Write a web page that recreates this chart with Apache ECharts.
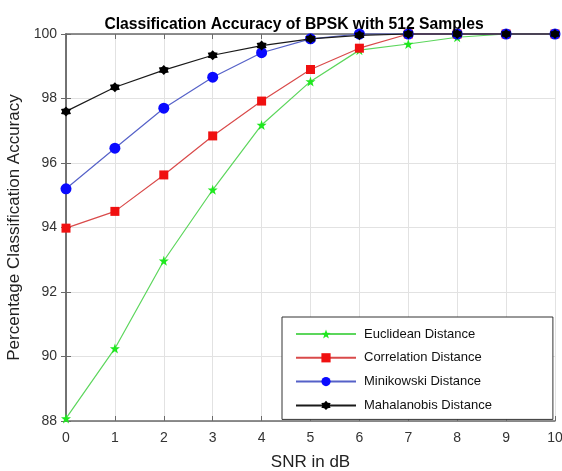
<!DOCTYPE html>
<html>
<head>
<meta charset="utf-8">
<script src="https://cdn.jsdelivr.net/npm/echarts@6/dist/echarts.min.js"></script>
<style>html,body{margin:0;padding:0;background:#fff;}#c{width:562px;height:471px;}</style>
</head>
<body>
<div id="c"></div>
<script>
var snr = [0, 1, 2, 3, 4, 5, 6, 7, 8, 9, 10];
var euclidean = [88.08, 90.25, 92.97, 95.17, 97.18, 98.53, 99.5, 99.69, 99.9, 100, 100];
var correlation = [93.98, 94.5, 95.63, 96.84, 97.92, 98.9, 99.56, 100, 100, 100, 100];
var minikowski = [95.2, 96.46, 97.7, 98.66, 99.42, 99.85, 100, 100, 100, 100, 100];
var mahalanobis = [97.6, 98.35, 98.88, 99.34, 99.64, 99.85, 99.96, 100, 100, 100, 100];
var seriesNames = ['Euclidean Distance', 'Correlation Distance', 'Minikowski Distance', 'Mahalanobis Distance'];
var yTicks = [88, 90, 92, 94, 96, 98, 100];

var star5 = 'path://M50 0 L61.76 33.82 L97.55 34.55 L69.02 56.18 L79.39 90.45 L50 70 L20.61 90.45 L30.98 56.18 L2.45 34.55 L38.24 33.82 Z';
var star6 = 'path://M50 0 L67 20 L93.3 25 L84 50 L93.3 75 L67 80 L50 100 L33 80 L6.7 75 L16 50 L6.7 25 L33 20 Z';

function pairs(ys) { return snr.map(function (x, i) { return [x, ys[i]]; }); }

var font = 'Liberation Sans, Arial, sans-serif';
var axisCol = '#6a6a6a';
var chart = echarts.init(document.getElementById('c'));
var mk = function (name, ys, sym, size, mcol, lcol, z) {
  return {
    name: name, type: 'line', data: pairs(ys), symbol: sym, symbolSize: size,
    showAllSymbol: true, clip: false, z: z, xAxisIndex: 0, yAxisIndex: 0,
    itemStyle: { color: mcol, borderColor: mcol, borderWidth: 0 },
    lineStyle: { color: lcol, width: 1.2 },
    emphasis: { disabled: true }, animation: false
  };
};
chart.setOption({
  animation: false,
  title: {
    text: 'Classification Accuracy of BPSK with 512 Samples',
    left: 289, top: 12, textAlign: 'center',
    textStyle: { fontFamily: font, fontSize: 15.7, fontWeight: 'bold', color: '#000' }
  },
  grid: { left: 66, right: 7, top: 34, bottom: 50, show: false, containLabel: false, outerBoundsMode: 'none' },
  legend: {
    orient: 'vertical', left: 282, top: 317,
    padding: [10, 61, 7, 13], itemGap: 9.8, itemWidth: 60, itemHeight: 11.5,
    backgroundColor: '#fff', borderColor: '#333', borderWidth: 1, borderRadius: 0,
    textStyle: { fontFamily: font, fontSize: 13, lineHeight: 14, color: '#111', padding: [0, 0, 0, 3] },
    data: seriesNames
  },
  xAxis: [{
    type: 'value', min: 0, max: 10, interval: 1, position: 'bottom',
    name: 'SNR in dB', nameLocation: 'middle', nameGap: 33,
    nameTextStyle: { fontFamily: font, fontSize: 17, color: '#222' },
    axisLine: { show: true, lineStyle: { color: axisCol, width: 1.5 } },
    axisTick: { show: true, inside: true, length: 5, lineStyle: { color: axisCol } },
    axisLabel: { fontFamily: font, fontSize: 14, color: '#333', margin: 10 },
    splitLine: { show: true, lineStyle: { color: '#e2e2e2', width: 1 } }
  }, {
    type: 'value', min: 0, max: 10, interval: 1, position: 'top',
    axisLine: { show: true, lineStyle: { color: axisCol, width: 1.5 } },
    axisTick: { show: true, inside: true, length: 5, lineStyle: { color: axisCol } },
    axisLabel: { show: false }, splitLine: { show: false }
  }],
  yAxis: [{
    type: 'value', min: 88, max: 100, interval: 2, position: 'left',
    name: 'Percentage Classification Accuracy', nameLocation: 'middle', nameGap: 27,
    nameTextStyle: { fontFamily: font, fontSize: 17, color: '#222' },
    axisLine: { show: true, lineStyle: { color: axisCol, width: 1.5 } },
    axisTick: { show: true, inside: true, length: 5, lineStyle: { color: axisCol } },
    axisLabel: { fontFamily: font, fontSize: 14, color: '#333', margin: 9,
      formatter: function (v) { return yTicks.indexOf(v) >= 0 ? String(v) : ''; } },
    splitLine: { show: true, lineStyle: { color: '#e2e2e2', width: 1 } }
  }, {
    type: 'value', min: 88, max: 100, interval: 2, position: 'right',
    axisLine: { show: true, lineStyle: { color: axisCol, width: 1.5 } },
    axisTick: { show: true, inside: true, length: 5, lineStyle: { color: axisCol } },
    axisLabel: { show: false }, splitLine: { show: false }
  }],
  series: [
    mk(seriesNames[0], euclidean, star5, 10, '#1fe81f', '#5cd65c', 2),
    mk(seriesNames[1], correlation, 'rect', 9, '#f01010', '#d94a4a', 3),
    mk(seriesNames[2], minikowski, 'circle', 11, '#0a0aff', '#5561c8', 4),
    mk(seriesNames[3], mahalanobis, star6, 10, '#000000', '#1a1a1a', 5)
  ]
});
</script>
</body>
</html>
